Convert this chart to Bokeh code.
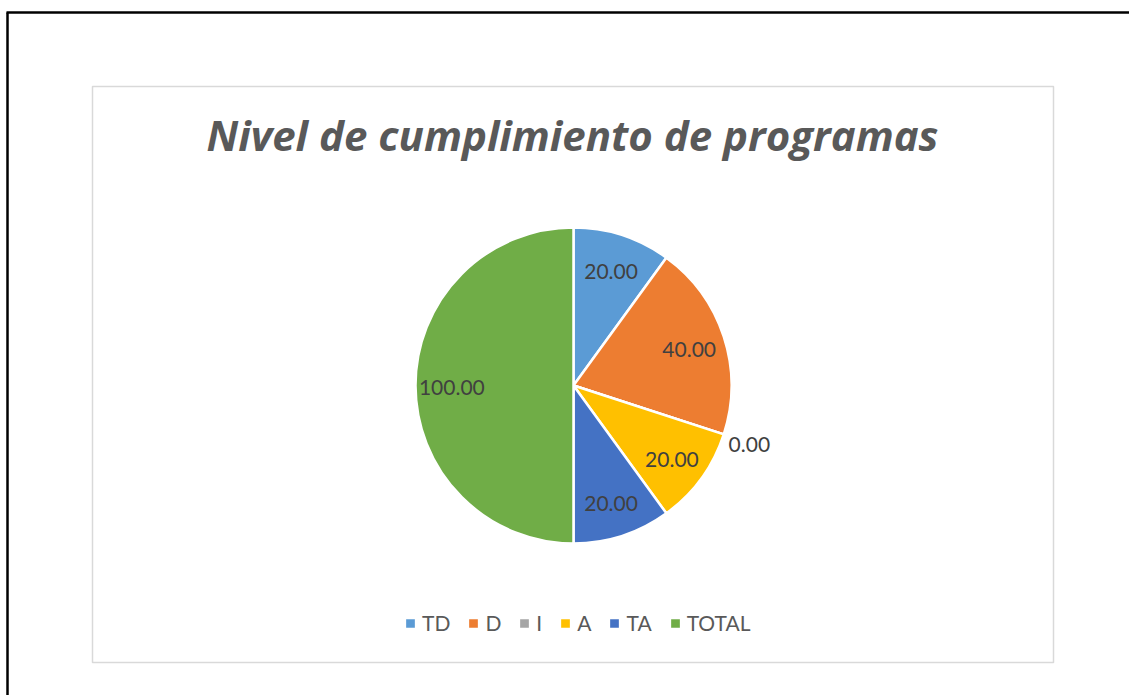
import numpy as np
from bokeh.plotting import figure, ColumnDataSource
from bokeh.models import Range1d, Legend, LegendItem, Label
from bokeh.core.properties import value
from bokeh.embed import file_html
from bokeh.resources import INLINE

# ---- data ----
categories = ["TD", "D", "I", "A", "TA", "TOTAL"]
values = [20.00, 40.00, 0.00, 20.00, 20.00, 100.00]
colors = ["#5B9BD5", "#ED7D31", "#A5A5A5", "#FFC000", "#4472C4", "#70AD47"]
title_text = "Nivel de cumplimiento de programas"

# ---- canvas geometry (page coords -> data coords) ----
W, H = 1129, 695
def X(px):
    return px
def Y(py):
    return H - py

p = figure(width=W, height=H, output_backend="svg", toolbar_location=None,
           x_range=Range1d(0, W), y_range=Range1d(0, H),
           min_border=0, outline_line_color=None)
p.axis.visible = False
p.grid.visible = False
p.background_fill_color = "white"
p.border_fill_color = "white"

# outer black page border (left + top)
p.segment(x0=[X(7), X(6)], y0=[Y(12), Y(12)], x1=[X(7), W], y1=[0, Y(12)],
          line_color="black", line_width=2.5)

# chart area border
p.quad(left=[X(92)], right=[X(1053)], top=[Y(86)], bottom=[Y(662)],
       fill_color=None, line_color="#D9D9D9", line_width=1.5)

# ---- pie ----
cx, cy, R = X(573), Y(385), 158
vals = np.array(values, dtype=float)
frac = vals / vals.sum()
ends = np.pi / 2 - 2 * np.pi * np.cumsum(frac)
starts = np.concatenate([[np.pi / 2], ends[:-1]])
mids = (starts + ends) / 2
# a zero-size slice must not be drawn as a full circle
ends_draw = np.where(np.isclose(starts, ends), starts - 1e-6, ends)
src = ColumnDataSource(dict(cat=categories, val=values, color=colors,
                            start=starts, end=ends_draw,
                            x=[cx] * len(values), y=[cy] * len(values)))
wr = p.wedge(x="x", y="y", radius=R, start_angle="start", end_angle="end",
             direction="clock", fill_color="color", line_color="white",
             line_width=2.5, source=src)

# data labels
lab_r = np.where(vals > 0, 0.77 * R, 1.17 * R)
lx = cx + lab_r * np.cos(mids)
ly = cy + lab_r * np.sin(mids) - 2
lsrc = ColumnDataSource(dict(x=lx, y=ly, t=[f"{v:.2f}" for v in values]))
p.text(x="x", y="y", text="t", source=lsrc, text_align="center",
       text_baseline="middle", text_font=value("Lato"), text_font_size="21px",
       text_color="#404040")

# title
p.add_layout(Label(x=X(572), y=Y(134), text=title_text, text_align="center",
                   text_baseline="alphabetic", text_font="Open Sans",
                   text_font_size="42px", text_font_style="bold italic",
                   text_color="#595959"))

# legend
items = [LegendItem(label=c, renderers=[wr], index=i) for i, c in enumerate(categories)]
legend = Legend(items=items, orientation="horizontal",
                location=(X(403), Y(635)),
                glyph_width=14, glyph_height=14, label_standoff=5, spacing=16,
                padding=0, margin=0, label_height=20, label_width=1,
                label_text_font="Lato", label_text_font_size="21px",
                label_text_color="#595959",
                border_line_color=None, background_fill_alpha=0)
p.add_layout(legend, "center")

open("out.html", "w").write(file_html(p, INLINE))
